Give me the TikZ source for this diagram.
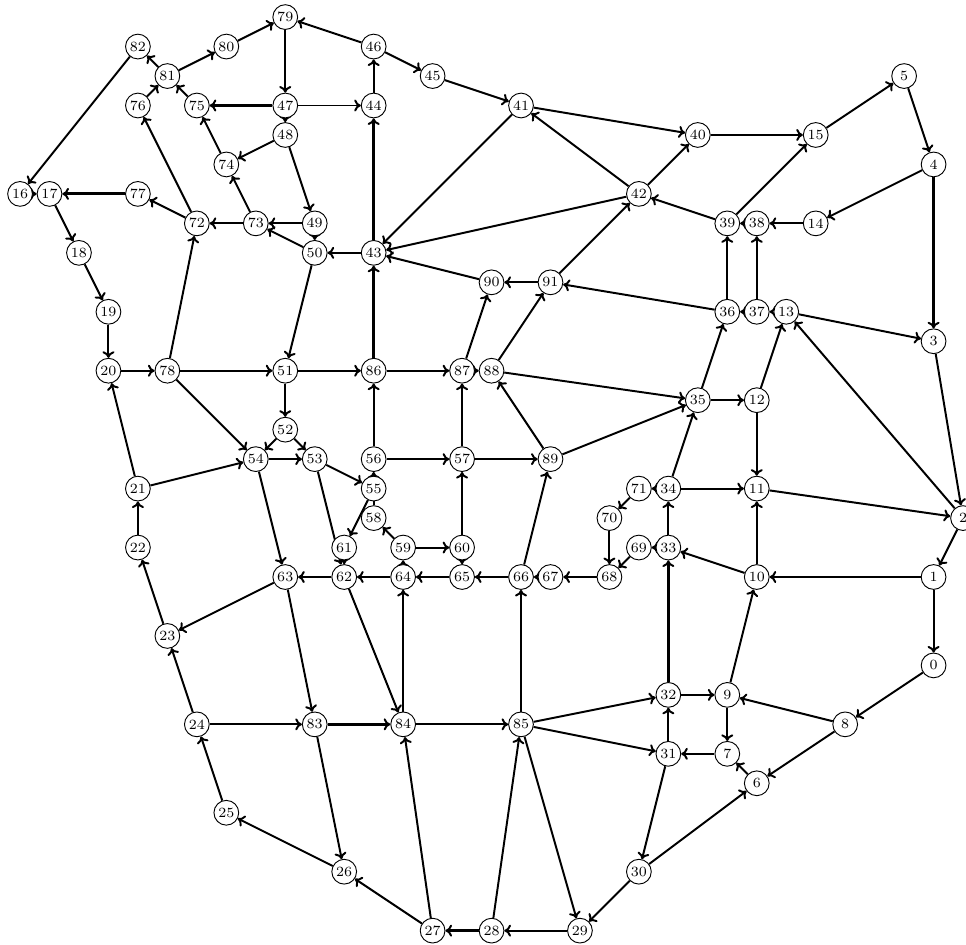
\documentclass[tikz,border=0pt]{standalone}
\usepackage{tikz}
\usetikzlibrary{arrows.meta, backgrounds}

\tikzset{
  vtx/.style={circle, draw, fill=white, line width=0.45pt, inner sep=0pt,
              minimum size=0.42cm, font=\fontsize{6.8}{8}\selectfont},
  arc/.style={draw, line width=0.95pt, -{To[length=3.2pt, width=5.8pt]}},
  heavy/.style={draw, line width=1.4pt,
                -{To[length=3.2pt, width=5.8pt, line width=0.95pt]}}
}

\begin{document}
\begin{tikzpicture}[x=0.5cm, y=-0.5cm]
  \useasboundingbox (-0.68,-0.58) rectangle (32.1,31.46);

  % vertices on the grid
  \node[vtx] (v0) at (31,22) {0};
  \node[vtx] (v1) at (31,19) {1};
  \node[vtx] (v2) at (32,17) {2};
  \node[vtx] (v3) at (31,11) {3};
  \node[vtx] (v4) at (31,5) {4};
  \node[vtx] (v5) at (30,2) {5};
  \node[vtx] (v6) at (25,26) {6};
  \node[vtx] (v7) at (24,25) {7};
  \node[vtx] (v8) at (28,24) {8};
  \node[vtx] (v9) at (24,23) {9};
  \node[vtx] (v10) at (25,19) {10};
  \node[vtx] (v11) at (25,16) {11};
  \node[vtx] (v12) at (25,13) {12};
  \node[vtx] (v13) at (26,10) {13};
  \node[vtx] (v14) at (27,7) {14};
  \node[vtx] (v15) at (27,4) {15};
  \node[vtx] (v16) at (0,6) {16};
  \node[vtx] (v17) at (1,6) {17};
  \node[vtx] (v18) at (2,8) {18};
  \node[vtx] (v19) at (3,10) {19};
  \node[vtx] (v20) at (3,12) {20};
  \node[vtx] (v21) at (4,16) {21};
  \node[vtx] (v22) at (4,18) {22};
  \node[vtx] (v23) at (5,21) {23};
  \node[vtx] (v24) at (6,24) {24};
  \node[vtx] (v25) at (7,27) {25};
  \node[vtx] (v26) at (11,29) {26};
  \node[vtx] (v27) at (14,31) {27};
  \node[vtx] (v28) at (16,31) {28};
  \node[vtx] (v29) at (19,31) {29};
  \node[vtx] (v30) at (21,29) {30};
  \node[vtx] (v31) at (22,25) {31};
  \node[vtx] (v32) at (22,23) {32};
  \node[vtx] (v33) at (22,18) {33};
  \node[vtx] (v34) at (22,16) {34};
  \node[vtx] (v35) at (23,13) {35};
  \node[vtx] (v36) at (24,10) {36};
  \node[vtx] (v37) at (25,10) {37};
  \node[vtx] (v38) at (25,7) {38};
  \node[vtx] (v39) at (24,7) {39};
  \node[vtx] (v40) at (23,4) {40};
  \node[vtx] (v41) at (17,3) {41};
  \node[vtx] (v42) at (21,6) {42};
  \node[vtx] (v43) at (12,8) {43};
  \node[vtx] (v44) at (12,3) {44};
  \node[vtx] (v45) at (14,2) {45};
  \node[vtx] (v46) at (12,1) {46};
  \node[vtx] (v47) at (9,3) {47};
  \node[vtx] (v48) at (9,4) {48};
  \node[vtx] (v49) at (10,7) {49};
  \node[vtx] (v50) at (10,8) {50};
  \node[vtx] (v51) at (9,12) {51};
  \node[vtx] (v52) at (9,14) {52};
  \node[vtx] (v53) at (10,15) {53};
  \node[vtx] (v54) at (8,15) {54};
  \node[vtx] (v55) at (12,16) {55};
  \node[vtx] (v56) at (12,15) {56};
  \node[vtx] (v57) at (15,15) {57};
  \node[vtx] (v58) at (12,17) {58};
  \node[vtx] (v59) at (13,18) {59};
  \node[vtx] (v60) at (15,18) {60};
  \node[vtx] (v61) at (11,18) {61};
  \node[vtx] (v62) at (11,19) {62};
  \node[vtx] (v63) at (9,19) {63};
  \node[vtx] (v64) at (13,19) {64};
  \node[vtx] (v65) at (15,19) {65};
  \node[vtx] (v66) at (17,19) {66};
  \node[vtx] (v67) at (18,19) {67};
  \node[vtx] (v68) at (20,19) {68};
  \node[vtx] (v69) at (21,18) {69};
  \node[vtx] (v70) at (20,17) {70};
  \node[vtx] (v71) at (21,16) {71};
  \node[vtx] (v72) at (6,7) {72};
  \node[vtx] (v73) at (8,7) {73};
  \node[vtx] (v74) at (7,5) {74};
  \node[vtx] (v75) at (6,3) {75};
  \node[vtx] (v76) at (4,3) {76};
  \node[vtx] (v77) at (4,6) {77};
  \node[vtx] (v78) at (5,12) {78};
  \node[vtx] (v79) at (9,0) {79};
  \node[vtx] (v80) at (7,1) {80};
  \node[vtx] (v81) at (5,2) {81};
  \node[vtx] (v82) at (4,1) {82};
  \node[vtx] (v83) at (10,24) {83};
  \node[vtx] (v84) at (13,24) {84};
  \node[vtx] (v85) at (17,24) {85};
  \node[vtx] (v86) at (12,12) {86};
  \node[vtx] (v87) at (15,12) {87};
  \node[vtx] (v88) at (16,12) {88};
  \node[vtx] (v89) at (18,15) {89};
  \node[vtx] (v90) at (16,9) {90};
  \node[vtx] (v91) at (18,9) {91};

  \begin{scope}[on background layer]
    % heavier arcs
    \path[heavy] (v47) edge (v75) (v77) edge (v17) (v43) edge (v44)
      (v86) edge (v43) (v4) edge (v3) (v1) edge (v10) (v32) edge (v33)
      (v85) edge (v66) (v83) edge (v84) (v28) edge (v27);
    % upper left
    \path[arc] (v81) edge (v82) (v81) edge (v80) (v80) edge (v79)
      (v46) edge (v79) (v79) edge (v47) (v76) edge (v81) (v75) edge (v81)
      (v47) edge (v44) (v47) edge (v48) (v48) edge (v74) (v48) edge (v49)
      (v74) edge (v75) (v73) edge (v74) (v82) edge (v16) (v16) edge (v17)
      (v72) edge (v77) (v72) edge (v76) (v73) edge (v72) (v49) edge (v73)
      (v50) edge (v73) (v49) edge (v50) (v43) edge (v50) (v17) edge (v18)
      (v18) edge (v19) (v78) edge (v72) (v50) edge (v51);
    % upper middle
    \path[arc] (v46) edge (v45) (v45) edge (v41) (v44) edge (v46)
      (v41) edge (v43) (v42) edge (v41) (v41) edge (v40) (v42) edge (v43)
      (v39) edge (v42) (v42) edge (v40) (v91) edge (v42) (v90) edge (v43)
      (v91) edge (v90) (v36) edge (v91) (v87) edge (v90) (v88) edge (v91);
    % upper right
    \path[arc] (v40) edge (v15) (v15) edge (v5) (v5) edge (v4)
      (v4) edge (v14) (v39) edge (v15) (v38) edge (v39) (v14) edge (v38)
      (v36) edge (v39) (v37) edge (v38) (v37) edge (v36) (v13) edge (v37)
      (v13) edge (v3);
    % middle right
    \path[arc] (v35) edge (v36) (v12) edge (v13) (v2) edge (v13)
      (v3) edge (v2) (v35) edge (v12) (v12) edge (v11) (v88) edge (v35)
      (v89) edge (v35) (v34) edge (v35) (v34) edge (v71) (v34) edge (v11)
      (v11) edge (v2) (v33) edge (v34) (v33) edge (v69) (v10) edge (v33)
      (v10) edge (v11) (v2) edge (v1) (v9) edge (v10) (v1) edge (v0);
    % middle left
    \path[arc] (v19) edge (v20) (v20) edge (v78) (v78) edge (v51)
      (v78) edge (v54) (v21) edge (v20) (v51) edge (v52) (v52) edge (v54)
      (v52) edge (v53) (v54) edge (v53) (v21) edge (v54) (v22) edge (v21)
      (v54) edge (v63) (v53) edge (v62) (v62) edge (v63) (v63) edge (v23)
      (v23) edge (v22) (v63) edge (v83) (v51) edge (v86) (v53) edge (v55);
    % centre
    \path[arc] (v86) edge (v87) (v87) edge (v88) (v89) edge (v88)
      (v56) edge (v86) (v56) edge (v57) (v57) edge (v87) (v57) edge (v89)
      (v58) edge (v56) (v55) edge (v61) (v59) edge (v58) (v59) edge (v60)
      (v60) edge (v57) (v60) edge (v65) (v64) edge (v59) (v61) edge (v62)
      (v64) edge (v62) (v65) edge (v64) (v66) edge (v65) (v67) edge (v66)
      (v68) edge (v67) (v66) edge (v89) (v71) edge (v70) (v70) edge (v68)
      (v69) edge (v68) (v62) edge (v84) (v84) edge (v64);
    % bottom
    \path[arc] (v84) edge (v85) (v85) edge (v32) (v85) edge (v31)
      (v83) edge (v26) (v27) edge (v26) (v27) edge (v84) (v28) edge (v85)
      (v85) edge (v29) (v29) edge (v28) (v30) edge (v29) (v31) edge (v30)
      (v30) edge (v6) (v24) edge (v23) (v24) edge (v83) (v25) edge (v24)
      (v26) edge (v25) (v32) edge (v9) (v9) edge (v7) (v8) edge (v9)
      (v0) edge (v8) (v8) edge (v6) (v7) edge (v31) (v31) edge (v32)
      (v6) edge (v7);
  \end{scope}
\end{tikzpicture}
\end{document}
